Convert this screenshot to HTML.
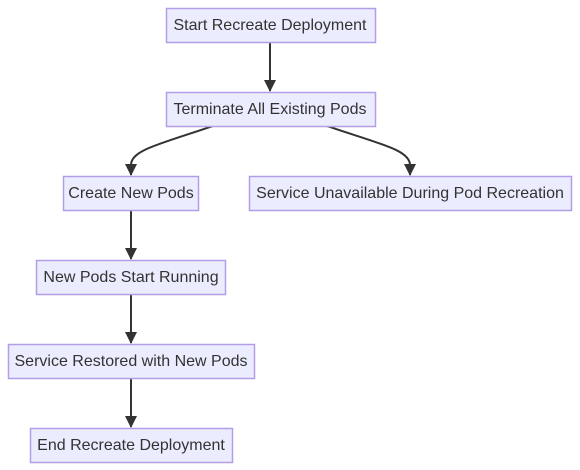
<!DOCTYPE html>
<html><head><meta charset="utf-8"><style>
html,body{margin:0;padding:0;background:#fff;width:580px;height:470px;overflow:hidden}
text{font-family:"Liberation Sans",sans-serif;font-size:16px;fill:#333;text-anchor:middle;dominant-baseline:central}
rect{fill:#ECECFF;stroke:#B39DE8;stroke-width:1.5}
.e{fill:none;stroke:#333;stroke-width:2}
</style></head><body>
<svg width="580" height="470" viewBox="0 0 580 470" xmlns="http://www.w3.org/2000/svg">
<defs>
<marker id="b" viewBox="0 0 12 12" refX="11" refY="6" markerWidth="12" markerHeight="12" orient="auto" markerUnits="userSpaceOnUse"><path d="M0,0L12,6L0,12z" fill="#333"/></marker></defs>
<path class="e" d="M270,42V91" marker-end="url(#b)"/>
<path class="e" d="M213,126C160,144 131,150 131,165V175" marker-end="url(#b)"/>
<path class="e" d="M327,126C380,144 410,150 410,165V175" marker-end="url(#b)"/>
<path class="e" d="M131,210V259" marker-end="url(#b)"/>
<path class="e" d="M131,294V343" marker-end="url(#b)"/>
<path class="e" d="M131,378V427" marker-end="url(#b)"/>
<rect x="166.5" y="8.5" width="209" height="34"/><text x="270" y="25.5">Start Recreate Deployment</text>
<rect x="166.5" y="92.5" width="209" height="34"/><text x="270" y="109.5">Terminate All Existing Pods</text>
<rect x="63.5" y="176.5" width="135" height="34"/><text x="131" y="193.5">Create New Pods</text>
<rect x="249.5" y="176.5" width="322" height="34"/><text x="410" y="193.5">Service Unavailable During Pod Recreation</text>
<rect x="36.5" y="260.5" width="189" height="34"/><text x="131" y="277.5">New Pods Start Running</text>
<rect x="8.5" y="344.5" width="246" height="34"/><text x="131" y="361.5">Service Restored with New Pods</text>
<rect x="30.5" y="428.5" width="202" height="34"/><text x="131" y="445.5">End Recreate Deployment</text>
</svg>
</body></html>
